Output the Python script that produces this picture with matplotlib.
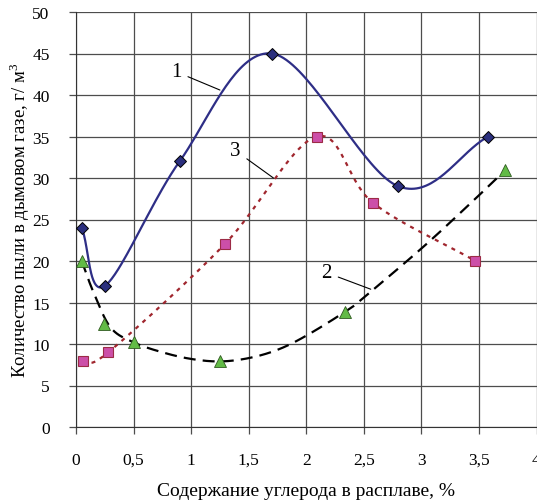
import numpy as np
import matplotlib
matplotlib.use('Agg')
import matplotlib.pyplot as plt
from matplotlib.ticker import FuncFormatter

plt.rcParams['font.family'] = ['Liberation Serif', 'DejaVu Serif']
plt.rcParams['mathtext.fontset'] = 'custom'
plt.rcParams['mathtext.rm'] = 'Liberation Serif'

# Curve 1 - diamonds
x1 = [0.05, 0.25, 0.9, 1.7, 2.8, 3.58]
y1 = [24, 17, 32, 45, 29, 35]

# Curve 2 - triangles (points) and the drawn trend curve
x2 = [0.05, 0.24, 0.5, 1.25, 2.34, 3.73]
y2 = [20, 12.4, 10.2, 7.9, 13.9, 31]
x2_trend = [0.05, 0.15, 0.3, 0.5, 0.75, 1.0, 1.25, 1.5, 1.75, 2.0, 2.35, 2.5, 3.0, 3.4, 3.68]
y2_trend = [20, 16.3, 12.0, 10.2, 9.0, 8.2, 7.9, 8.3, 9.3, 11.0, 14.0, 15.6, 21.5, 26.6, 30.3]

# Curve 3 - squares
x3 = [0.06, 0.28, 1.29, 2.09, 2.58, 3.47]
y3 = [8, 9, 22, 35, 27, 20]

xmin, xmax, ymin, ymax = 0, 4, 0, 50


def smooth(xs, ys, n=40):
    # Catmull-Rom in screen-like units, like Excel smoothed lines
    sx, sy = 461 / (xmax - xmin), 415 / (ymax - ymin)
    p = np.column_stack([np.asarray(xs) * sx, np.asarray(ys) * sy])
    p = np.vstack([2 * p[0] - p[1], p, 2 * p[-1] - p[-2]])
    out = []
    for i in range(1, len(p) - 2):
        p0, p1, p2, p3 = p[i - 1], p[i], p[i + 1], p[i + 2]
        t = np.linspace(0, 1, n)[:, None]
        c1 = p1 + (p2 - p0) / 6
        c2 = p2 - (p3 - p1) / 6
        seg = ((1 - t) ** 3) * p1 + 3 * ((1 - t) ** 2) * t * c1 + 3 * (1 - t) * t ** 2 * c2 + t ** 3 * p2
        out.append(seg)
    out = np.vstack(out)
    return out[:, 0] / sx, out[:, 1] / sy


fig = plt.figure(figsize=(5.37, 5.02), dpi=100)
ax = fig.add_axes([76 / 537, 1 - 428 / 502, 460.5 / 537, 415 / 502])

c1 = '#2E2E86'
c2 = 'black'
c3 = '#A0262E'

sx, sy = smooth(x1, y1)
ax.plot(sx, sy, color=c1, lw=1.6, zorder=3)
ax.plot(x1, y1, ls='none', marker='D', ms=6, mfc='#2B2F7E', mec='black', mew=0.7, zorder=5)

sx, sy = smooth(x2_trend, y2_trend)
ax.plot(sx, sy, color=c2, lw=1.6, dashes=(5.4, 3.2), zorder=3)
ax.plot(x2, y2, ls='none', marker='^', ms=8, mfc='#62BB46', mec='#2F5A20', mew=0.6, zorder=5)

sx, sy = smooth(x3, y3)
ax.plot(sx, sy, color=c3, lw=1.6, dashes=(1.8, 2.4), zorder=3)
ax.plot(x3, y3, ls='none', marker='s', ms=7.5, mfc='#CC4FA8', mec='#9C2B46', mew=0.8, zorder=5)

ax.set_xlim(xmin, xmax)
ax.set_ylim(ymin, ymax)
ax.set_xticks(np.arange(0, 4.01, 0.5))
ax.set_yticks(np.arange(0, 51, 5))
ax.xaxis.set_major_formatter(FuncFormatter(lambda v, p: ('%g' % v).replace('.', ',')))
ax.grid(True, color='0.3', lw=0.9)
ax.set_axisbelow(True)
for s in ['top', 'right']:
    ax.spines[s].set_visible(False)
ax.spines['left'].set_color('0.2')
ax.spines['bottom'].set_color('0.2')
ax.tick_params(axis='both', direction='out', length=5, width=0.9, color='0.3', labelsize=12.5)
ax.tick_params(axis='y', pad=14)
ax.tick_params(axis='x', pad=13)

ax.set_xlabel('Содержание углерода в расплаве, %', fontsize=14, labelpad=10)
ax.set_ylabel('Количество пыли в дымовом газе, г/ м$^{3}$', fontsize=13.5, labelpad=0)

ann = dict(arrowstyle='-', lw=0.8, color='black', shrinkA=3, shrinkB=0)
ax.annotate('1', xy=(1.25, 40.6), xytext=(0.87, 42.8), fontsize=15, ha='center', va='center', arrowprops=ann)
ax.annotate('3', xy=(1.715, 30.0), xytext=(1.385, 33.3), fontsize=15, ha='center', va='center', arrowprops=ann)
ax.annotate('2', xy=(2.56, 16.6), xytext=(2.175, 18.6), fontsize=15, ha='center', va='center', arrowprops=ann)

fig.savefig('out.png', dpi=100)
